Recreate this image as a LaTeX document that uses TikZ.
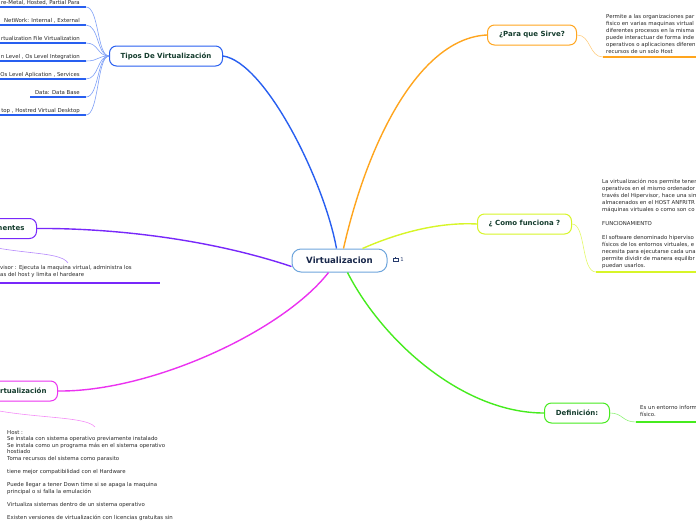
\documentclass[tikz,border=0pt]{standalone}
\usepackage{fontspec}
\setmainfont{DejaVu Sans}

\definecolor{cenblue}{RGB}{110,165,220}
\definecolor{centext}{RGB}{25,40,75}
\definecolor{noteblue}{RGB}{40,60,110}
\definecolor{brblue}{RGB}{40,95,240}
\definecolor{brpurple}{RGB}{120,40,250}
\definecolor{brmagenta}{RGB}{235,50,240}
\definecolor{brorange}{RGB}{255,165,30}
\definecolor{bryellow}{RGB}{215,245,40}
\definecolor{brgreen}{RGB}{70,235,30}
\definecolor{titlegreen}{RGB}{20,60,45}
\definecolor{bodygray}{RGB}{40,40,40}

\begin{document}
\begin{tikzpicture}[x=1pt,y=-1pt,
    topic/.style={draw, fill=white, rounded corners=7pt, line width=1pt,
        minimum height=20pt, inner sep=0pt, text=titlegreen,
        font=\fontsize{7}{8}\selectfont\bfseries},
    leaf/.style={inner sep=0pt, align=left, text=bodygray,
        font=\fontsize{5.4}{7}\selectfont},
    branch/.style={line width=1.4pt},
    twig/.style={line width=0.6pt},
    uline/.style={line width=1.4pt}]
    \useasboundingbox (0,0) rectangle (696,520);
    \clip (0,0) rectangle (696,520);

    % Central topic
    \node[topic, draw=cenblue, minimum width=95pt, minimum height=23pt,
        rounded corners=9pt, text=centext,
        font=\fontsize{8.6}{10}\selectfont\bfseries] (cen) at (339.5,260.5) {Virtualizacion};
    \node[font=\fontsize{5.3}{6}\selectfont, text=noteblue, inner sep=0pt] (note) at (402,260) {1};
    \draw[line width=0.7pt, noteblue]
        ([xshift=-8.5pt,yshift=-1.8pt]note.center) rectangle ([xshift=-3.5pt,yshift=1.2pt]note.center)
        ([xshift=-7pt,yshift=1.2pt]note.center) -- ([xshift=-7pt,yshift=2.8pt]note.center);

    % Branches from the central topic
    \draw[branch, brblue] ([xshift=-3pt]cen.north) .. controls (324,180) and (265,62) .. (223,56) coordinate (tiposr);
    \draw[branch, brorange] ([xshift=4pt]cen.north) .. controls (368,140) and (420,38) .. (487,35) coordinate (sirvel);
    \draw[branch, bryellow] ([xshift=23pt]cen.north) .. controls (400,232) and (440,222) .. (477,224) coordinate (funl);
    \draw[branch, brgreen] ([xshift=8pt]cen.south) .. controls (382,340) and (462,413) .. (544,413) coordinate (defil);
    \draw[branch, brmagenta] ([xshift=-11pt]cen.south) .. controls (282,332) and (150,392) .. (58,391) coordinate (virtr);
    \draw[branch, brpurple] ([yshift=-6pt]cen.west) .. controls (200,236) and (100,228) .. (37,228.5) coordinate (compr);

    % Main topics
    \node[topic, draw=brblue, minimum width=113pt, anchor=east] (tipos) at (tiposr) {Tipos De Virtualización};
    \node[topic, draw=brorange, minimum width=89pt, anchor=west] (sirve) at (sirvel) {¿Para que Sirve?};
    \node[topic, draw=bryellow, minimum width=94pt, anchor=west] (funciona) at (funl) {¿ Como funciona ?};
    \node[topic, draw=brgreen, minimum width=65pt, anchor=west] (defi) at (defil) {Definición:};
    \node[topic, draw=brpurple, anchor=east, text width=55pt, align=right,
        inner xsep=12pt] (comp) at (compr) {mentes};
    \node[topic, draw=brmagenta, anchor=east, text width=75pt, align=right,
        inner xsep=11pt] (virt) at (virtr) {irtualización};

    % Tipos de virtualizacion
    \foreach \yy/\txt/\xs [count=\i] in {
        7/{re-Metal, Hosted, Partial Para}/0,
        25/{NetWork: Internal , External}/0,
        43/{rtualization File Virtualization}/0,
        61/{n Level , Os Level Integration}/0,
        79/{Os Level Aplication , Services}/0,
        97/{Data: Data Base}/30,
        115/{top , Hostred Virtual Desktop}/0} {
        \node[leaf, anchor=base east] (tp\i) at (80,\yy-2.6) {\txt};
        \coordinate (tpe\i) at (86,\yy);
        \draw[uline, brblue] (\xs,\yy) -- (tpe\i);
        \draw[twig, brblue!60] (tpe\i) .. controls (99,\yy) and (97,56) .. (tipos.west);
    }

    % Para que sirve
    \node[leaf, anchor=north west] (sirvetxt) at (606,14.5) {Permite a las organizaciones par\\
        fisico en varias maquinas virtual\\
        diferentes procesos en la misma\\
        puede interactuar de forma inde\\
        operativos o aplicaciones diferen\\
        recursos de un solo Host};
    \coordinate (sirveu) at (603,57);
    \draw[uline, brorange] (sirveu) -- (696,57);
    \draw[twig, brorange!55] (sirve.east) .. controls (591,35) and (589,57) .. (sirveu);

    % Como funciona
    \node[leaf, anchor=north west] (funtxt) at (602,178.5) {La virtualización nos permite tener\\
        operativos en el mismo ordenador\\
        través del Hipervisor, hace una sim\\
        almacenados en el HOST ANFRITR\\
        máquinas virtuales o como son co\\[7pt]
        FUNCIONAMIENTO\\[7pt]
        El software denominado hiperviso\\
        físicos de los entornos virtuales, e\\
        necesita para ejecutarse cada una\\
        permite dividir de manera equilibr\\
        puedan usarlos.};
    \coordinate (funu) at (596,272);
    \draw[uline, bryellow] (funu) -- (696,272);
    \draw[twig, bryellow!70] (funciona.east) .. controls (586,224) and (581,272) .. (funu);

    % Definicion
    \node[leaf, anchor=north west] (defitxt) at (640,405.5) {Es un entorno inform\\físico.};
    \coordinate (defiu) at (636,422);
    \draw[uline, brgreen] (defiu) -- (696,422);
    \draw[twig, brgreen!60] (defi.east) .. controls (623,413) and (622,422) .. (defiu);

    % Complementes
    \node[leaf, anchor=north west] (comptxt) at (0,265) {visor : Ejecuta la maquina virtual, administra los\\
        as del host y limita el hardeare};
    \coordinate (compt) at (68,263);
    \draw[uline, brpurple] (0,283) -- (160,283);
    \draw[twig, brpurple!55] ([xshift=3pt]comp.south west) .. controls (12,256) and (60,250) .. (compt);

    % Virtualizacion
    \node[leaf, anchor=north west, font=\fontsize{5.4}{6.6}\selectfont] (virttxt) at (7,430) {Host :\\
        Se instala con sistema operativo previamente instalado\\
        Se instala como un programa más en el sistema operativo\\
        hostiado\\
        Toma recursos del sistema como parasito\\[6.6pt]
        tiene mejor compatibilidad con el Hardware\\[6.6pt]
        Puede llegar a tener Down time si se apaga la maquina\\
        principal o si falla la emulación\\[6.6pt]
        Virtualiza sistemas dentro de un sistema operativo\\[6.6pt]
        Existen versiones de virtualización con licencias gratuitas sin};
    \coordinate (virtt) at (95,427);
    \draw[twig, brmagenta!55] ([xshift=3pt]virt.south west) .. controls (10,420) and (85,414) .. (virtt);
\end{tikzpicture}
\end{document}
